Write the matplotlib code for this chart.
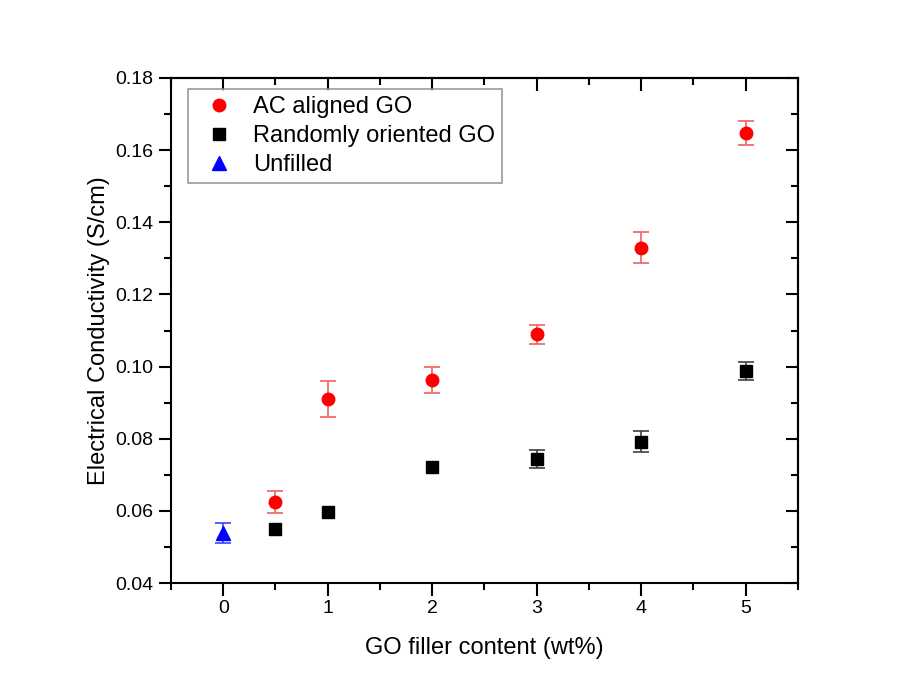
import matplotlib.pyplot as plt
from matplotlib.ticker import MultipleLocator

plt.rcParams['font.family'] = ['Liberation Sans', 'DejaVu Sans']

# AC aligned GO
x_ac = [0.5, 1, 2, 3, 4, 5]
y_ac = [0.0625, 0.0910, 0.0964, 0.1089, 0.1330, 0.1648]
e_ac = [0.0030, 0.0049, 0.0036, 0.0027, 0.0043, 0.0033]

# Randomly oriented GO (error bars too small to see at 0.5, 1, 2)
x_rnd = [0.5, 1, 2, 3, 4, 5]
y_rnd = [0.0549, 0.0598, 0.0722, 0.0743, 0.0792, 0.0987]
e_rnd = [0.0, 0.0, 0.0, 0.0025, 0.0029, 0.0025]

# Unfilled
x_un = [0]
y_un = [0.0539]
e_un = [0.0028]

fig = plt.figure(figsize=(9.12, 6.93), dpi=100)
ax = fig.add_axes([171/912, 1-583/693, (798-171)/912, (583-78)/693])

eb = dict(elinewidth=1.2, capsize=6, capthick=1.2, fmt='none', zorder=2)
ax.errorbar(x_ac, y_ac, yerr=e_ac, ecolor='#f06060', **eb)
ax.errorbar([x for x, e in zip(x_rnd, e_rnd) if e > 0],
            [y for y, e in zip(y_rnd, e_rnd) if e > 0],
            yerr=[e for e in e_rnd if e > 0], ecolor='#404040', **eb)
ax.errorbar(x_un, y_un, yerr=e_un, ecolor='#4040ff', **eb)

h1, = ax.plot(x_ac, y_ac, 'o', color='#ff0000', ms=9, zorder=3)
h2, = ax.plot(x_rnd, y_rnd, 's', color='black', ms=8, zorder=3)
h3, = ax.plot(x_un, y_un, '^', color='#0000ff', ms=10, zorder=3)

ax.set_xlim(-0.5, 5.5)
ax.set_ylim(0.04, 0.18)
ax.xaxis.set_major_locator(MultipleLocator(1))
ax.xaxis.set_minor_locator(MultipleLocator(0.5))
ax.yaxis.set_major_locator(MultipleLocator(0.02))
ax.yaxis.set_minor_locator(MultipleLocator(0.01))
ax.yaxis.set_major_formatter(plt.FormatStrFormatter('%.2f'))

for s in ax.spines.values():
    s.set_linewidth(1.5)
ax.tick_params(which='both', direction='out', width=1.5, labelsize=14)
ax.tick_params(which='major', length=9)
ax.tick_params(which='minor', length=5)
# inward ticks on top/right
ax2 = ax.secondary_xaxis('top')
ax2.xaxis.set_major_locator(MultipleLocator(1))
ax2.xaxis.set_minor_locator(MultipleLocator(0.5))
ax2.tick_params(which='both', direction='in', width=1.5, labeltop=False)
ax2.tick_params(which='major', length=9)
ax2.tick_params(which='minor', length=5)
ay2 = ax.secondary_yaxis('right')
ay2.yaxis.set_major_locator(MultipleLocator(0.02))
ay2.yaxis.set_minor_locator(MultipleLocator(0.01))
ay2.tick_params(which='both', direction='in', width=1.5, labelright=False)
ay2.tick_params(which='major', length=9)
ay2.tick_params(which='minor', length=5)
for sa in (ax2, ay2):
    for s in sa.spines.values():
        s.set_linewidth(1.5)

ax.set_xlabel('GO filler content (wt%)', fontsize=17, labelpad=14)
ax.set_ylabel('Electrical Conductivity (S/cm)', fontsize=17, labelpad=4)

leg = ax.legend([h1, h2, h3],
                ['AC aligned GO', 'Randomly oriented GO', 'Unfilled'],
                loc='upper left', bbox_to_anchor=(0.027, 0.978), fontsize=17,
                frameon=True, fancybox=False, edgecolor='#808080',
                borderaxespad=0, handletextpad=0.45, borderpad=0.3,
                labelspacing=0.3, handlelength=2.0)
leg.get_frame().set_linewidth(1.2)

fig.savefig('out.png', dpi=100)
